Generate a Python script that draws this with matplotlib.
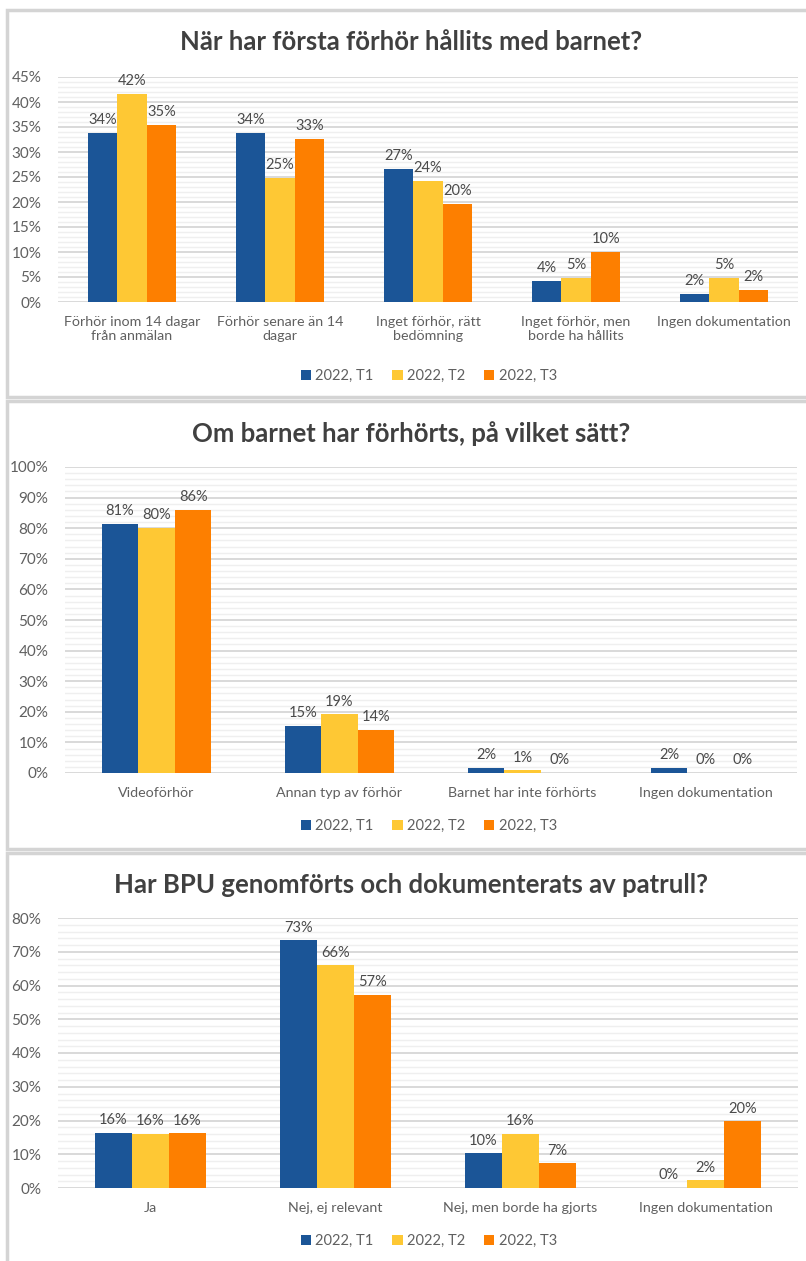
import numpy as np
import matplotlib.pyplot as plt
from matplotlib.patches import Rectangle, Patch
from matplotlib.ticker import MultipleLocator, FuncFormatter

# ===============================
# data
# ===============================
series = ["2022, T1", "2022, T2", "2022, T3"]
colors = ["#1b5597", "#fec834", "#fd7f00"]

title1 = "När har första förhör hållits med barnet?"
cats1 = ["Förhör inom 14 dagar\nfrån anmälan", "Förhör senare än 14\ndagar",
         "Inget förhör, rätt\nbedömning", "Inget förhör, men\nborde ha hållits",
         "Ingen dokumentation"]
t1_1 = [33.8, 33.8, 26.7, 4.3, 1.7]
t2_1 = [41.6, 24.8, 24.2, 4.8, 4.8]
t3_1 = [35.4, 32.7, 19.6, 10.0, 2.4]

title2 = "Om barnet har förhörts, på vilket sätt?"
cats2 = ["Videoförhör", "Annan typ av förhör", "Barnet har inte förhörts", "Ingen dokumentation"]
t1_2 = [81.4, 15.4, 1.7, 1.7]
t2_2 = [80.2, 19.2, 0.9, 0.0]
t3_2 = [86.0, 14.2, 0.0, 0.0]

title3 = "Har BPU genomförts och dokumenterats av patrull?"
cats3 = ["Ja", "Nej, ej relevant", "Nej, men borde ha gjorts", "Ingen dokumentation"]
t1_3 = [16.4, 73.4, 10.3, 0.0]
t2_3 = [16.0, 66.0, 16.0, 2.3]
t3_3 = [16.2, 57.2, 7.3, 19.8]

# ===============================
# figure
# ===============================
plt.rcParams['font.family'] = ['Lato', 'DejaVu Sans']
W, H = 806, 1261
fig = plt.figure(figsize=(W / 100, H / 100), dpi=100)


def add_ax(left, top, right, bottom):
    ax = fig.add_axes([left / W, 1 - bottom / H, (right - left) / W, (bottom - top) / H])
    ax.set_facecolor("none")
    return ax


def panel_box(top, bottom):
    fig.patches.append(Rectangle((7 / W, 1 - bottom / H), (W + 5 - 7) / W, (bottom - top) / H,
                                 transform=fig.transFigure, facecolor="white",
                                 edgecolor="#d4d4d4", linewidth=2.5, zorder=-10))


def draw(title, cats, vals, ymax, step, box, axpos, title_y, legend_y):
    panel_box(*box)
    ax = add_ax(*axpos)
    n = len(cats)
    x = np.arange(n)
    width = 0.2
    for j, v in enumerate(vals):
        bars = ax.bar(x + (j - 1) * width, v, width, color=colors[j], zorder=3)
        for b, val in zip(bars, v):
            ax.annotate(f"{round(val)}%", (b.get_x() + b.get_width() / 2, val),
                        xytext=(0, 4), textcoords="offset points", ha="center", va="bottom",
                        fontsize=10.5, color="#4a4a4a")
    ax.set_xlim(-0.5, n - 0.5)
    ax.set_ylim(0, ymax)
    ax.yaxis.set_major_locator(MultipleLocator(step))
    ax.yaxis.set_minor_locator(MultipleLocator(step / 5))
    ax.yaxis.set_major_formatter(FuncFormatter(lambda v, p: f"{v:.0f}%"))
    ax.grid(axis="y", which="major", color="#d9d9d9", linewidth=1.4, zorder=0)
    ax.grid(axis="y", which="minor", color="#efefef", linewidth=1.0, zorder=0)
    ax.set_axisbelow(True)
    for s in ax.spines.values():
        s.set_visible(False)
    ax.set_xticks(x)
    ax.set_xticklabels(cats, fontsize=10.3, color="#606060", linespacing=1.25)
    ax.tick_params(axis="both", which="both", length=0)
    ax.tick_params(axis="y", labelsize=11, labelcolor="#606060", pad=12)
    ax.tick_params(axis="x", pad=10)
    fig.text(0.5 + 8 / W, 1 - title_y / H, title, ha="center", va="center",
             fontsize=18.5, fontweight="bold", color="#404040")
    handles = [Patch(facecolor=c, label=s) for c, s in zip(colors, series)]
    fig.legend(handles=handles, loc="center", bbox_to_anchor=(0.532, 1 - legend_y / H),
               ncol=3, frameon=False, fontsize=10.5, handlelength=0.7, handleheight=0.7,
               handletextpad=0.3, columnspacing=1.3, labelcolor="#606060")
    return ax


draw(title1, cats1, [t1_1, t2_1, t3_1], 45, 5, (10, 397), (58, 77, 798, 302), 42, 376)
draw(title2, cats2, [t1_2, t2_2, t3_2], 100, 10, (401, 849), (65, 467, 797, 773), 434, 826)
draw(title3, cats3, [t1_3, t2_3, t3_3], 80, 10, (853, H + 5), (58, 918, 798, 1188), 885, 1241)

plt.savefig("out.png", dpi=100)
